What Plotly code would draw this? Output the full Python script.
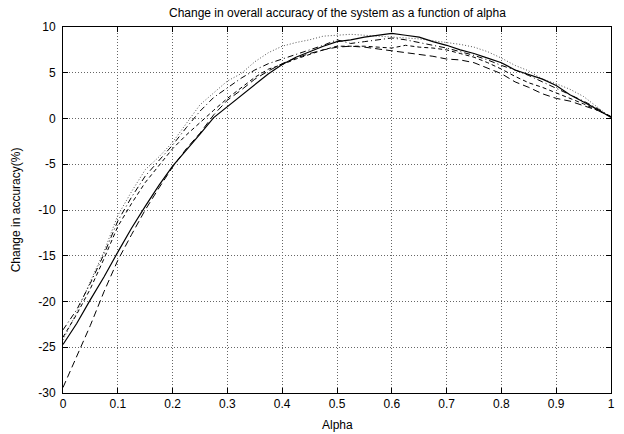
import plotly.graph_objects as go

# Alpha sample points
alpha = [round(i * 0.025, 3) for i in range(41)]

# Change in accuracy (%) for each run
run_solid = [-24.7, -22.4, -19.8, -17.3, -14.6, -12.0, -9.6, -7.3, -5.2, -3.5,
             -1.7, 0.1, 1.3, 2.4, 3.6, 4.9, 5.9, 6.7, 7.3, 7.9,
             8.4, 8.6, 8.9, 9.1, 9.3, 9.1, 8.9, 8.4, 8.0, 7.5,
             7.1, 6.6, 6.1, 5.3, 4.8, 4.3, 3.6, 2.6, 1.8, 1.0, 0.1]
run_longdash = [-29.4, -26.0, -22.6, -18.9, -15.5, -12.7, -10.0, -7.6, -5.3, -3.3,
                -1.6, 0.4, 2.0, 3.1, 4.3, 5.2, 6.0, 6.6, 7.1, 7.5,
                7.8, 7.9, 7.8, 7.6, 7.4, 7.2, 7.0, 6.8, 6.5, 6.4,
                6.1, 5.5, 4.9, 4.0, 3.4, 2.7, 2.2, 1.9, 1.4, 0.9, 0.2]
run_dotted = [-24.2, -21.2, -17.8, -14.5, -10.6, -8.0, -5.6, -4.2, -2.6, -0.5,
              1.5, 2.8, 4.1, 4.9, 6.2, 7.2, 7.9, 8.3, 8.6, 9.0,
              9.1, 9.2, 9.1, 9.0, 8.9, 8.8, 8.7, 8.5, 8.3, 8.1,
              7.8, 7.3, 6.6, 5.8, 5.2, 4.3, 3.8, 3.2, 2.4, 1.2, 0.1]
run_dashdot = [-23.1, -20.9, -18.0, -14.8, -11.2, -8.6, -6.3, -4.6, -2.9, -1.0,
               0.8, 2.3, 3.4, 4.4, 5.3, 6.0, 6.5, 7.0, 7.5, 8.0,
               8.6, 8.2, 8.4, 8.6, 8.8, 8.6, 8.3, 8.0, 7.7, 7.3,
               6.9, 6.4, 5.8, 5.3, 4.7, 4.0, 3.3, 2.6, 1.9, 1.1, 0.2]
run_shortdash = [-23.9, -21.4, -18.6, -15.3, -11.8, -9.3, -7.0, -5.1, -3.3, -1.8,
                 -0.4, 0.9, 2.2, 3.4, 4.5, 5.4, 5.9, 6.5, 7.0, 7.5,
                 7.9, 7.9, 7.9, 7.8, 7.7, 8.0, 7.8, 7.7, 7.5, 7.1,
                 6.7, 6.1, 5.4, 4.6, 3.9, 3.4, 2.8, 2.2, 1.6, 0.9, 0.2]

x_ticks = [0, 0.1, 0.2, 0.3, 0.4, 0.5, 0.6, 0.7, 0.8, 0.9, 1]
x_labels = ["0", "0.1", "0.2", "0.3", "0.4", "0.5", "0.6", "0.7", "0.8", "0.9", "1"]
y_ticks = [-30, -25, -20, -15, -10, -5, 0, 5, 10]
y_labels = ["-30", "-25", "-20", "-15", "-10", "-5", "0", "5", "10"]

FONT = "Liberation Sans, Arial, Helvetica, sans-serif"
FSIZE = 12

series = [
    (run_dotted, "#555555", "1px,2px", 1.0),
    (run_shortdash, "black", "4px,3px", 1.0),
    (run_dashdot, "black", "6px,3px,1px,3px", 1.0),
    (run_longdash, "black", "7px,4px", 1.0),
    (run_solid, "black", "solid", 1.2),
]

fig = go.Figure()
for values, color, dash, width in series:
    fig.add_trace(go.Scatter(
        x=alpha, y=values, mode="lines",
        line=dict(color=color, dash=dash, width=width),
        showlegend=False, hoverinfo="skip",
    ))

axis_common = dict(
    showline=True, linecolor="black", linewidth=1, mirror="ticks",
    ticks="inside", ticklen=5, tickcolor="black", tickwidth=1,
    showgrid=True, gridcolor="#666666", griddash="1px,2px", gridwidth=1,
    zeroline=False, tickfont=dict(family=FONT, size=FSIZE, color="black"),
)

fig.update_xaxes(range=[0, 1], tickvals=x_ticks, ticktext=x_labels, **axis_common)
fig.update_yaxes(range=[-30, 10], tickvals=y_ticks, ticktext=y_labels,
                 ticklabelstandoff=4, **axis_common)

plot_h = 434 - 27 - 41
plot_w = 624 - 63 - 9

fig.update_layout(
    width=624, height=434,
    margin=dict(l=63, r=9, t=27, b=41),
    paper_bgcolor="white", plot_bgcolor="white",
    font=dict(family=FONT, size=FSIZE, color="black"),
    annotations=[
        dict(text="Change in overall accuracy of the system as a function of alpha",
             xref="paper", yref="paper", x=0.5, y=1 + 14 / plot_h,
             xanchor="center", yanchor="middle", showarrow=False,
             font=dict(family=FONT, size=FSIZE, color="black")),
        dict(text="Alpha", xref="paper", yref="paper", x=0.5, y=-32 / plot_h,
             xanchor="center", yanchor="middle", showarrow=False,
             font=dict(family=FONT, size=FSIZE, color="black")),
        dict(text="Change in accuracy(%)", xref="paper", yref="paper",
             x=-47 / plot_w, y=0.5, textangle=-90,
             xanchor="center", yanchor="middle", showarrow=False,
             font=dict(family=FONT, size=FSIZE, color="black")),
    ],
)

fig.write_html("out.html")
